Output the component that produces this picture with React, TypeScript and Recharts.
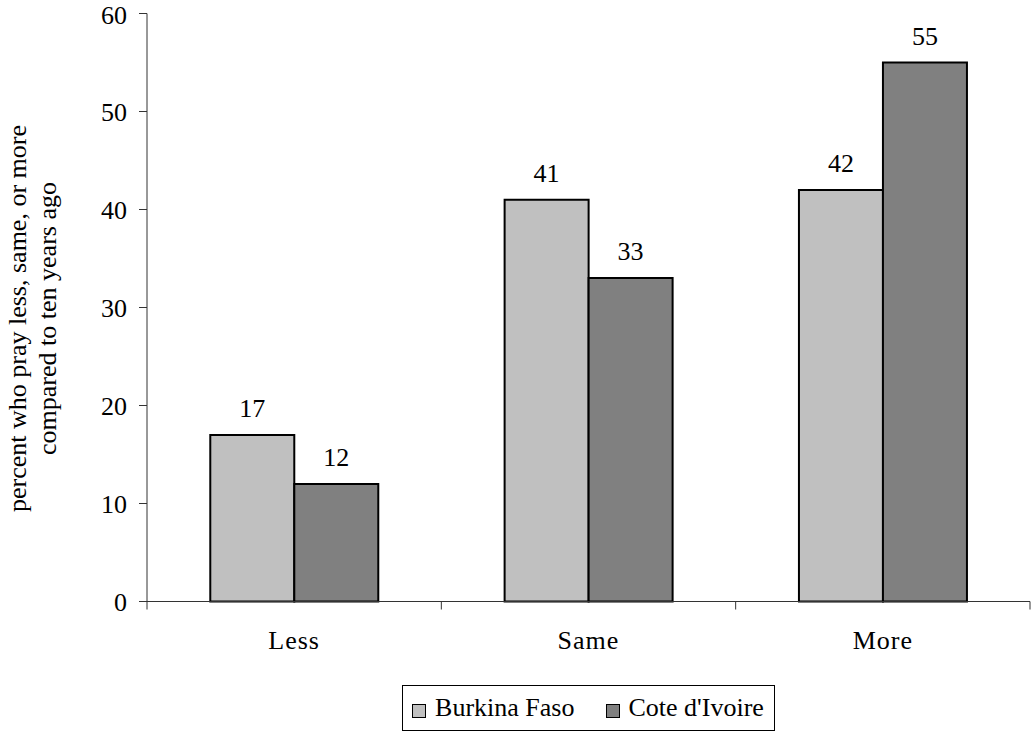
import React from "react";
import { BarChart, Bar, XAxis, YAxis, Legend, LabelList } from "recharts";

const categories = ["Less", "Same", "More"];
const burkinaFaso = [17, 41, 42];
const coteDIvoire = [12, 33, 55];
const yTicks = [0, 10, 20, 30, 40, 50, 60];
const seriesNames = ["Burkina Faso", "Cote d'Ivoire"];
const seriesColors = ["#C0C0C0", "#808080"];
const yLabelLines = ["percent who pray less, same, or more", "compared to ten years ago"];

const data = categories.map((c, i) => ({
  cat: c,
  bf: burkinaFaso[i],
  ci: coteDIvoire[i],
}));

const FONT = "'Liberation Serif', 'Times New Roman', serif";
const FS = 26;
const W = 1032;
const H = 732;
const M = { top: 13.5, right: 2, left: 0, bottom: 70.5 };
const Y_W = 147;
const TICK = 8;
const X_MARGIN = 21;

// ticks sit on the category boundaries, not the centres
function XTick(props: any) {
  const { x, y, payload, index } = props;
  const plotW = W - M.left - M.right - Y_W;
  const half = payload && payload.offset ? payload.offset : plotW / categories.length / 2;
  const axisY = y - TICK - X_MARGIN;
  return (
    <g>
      <line x1={x - half} x2={x - half} y1={axisY} y2={axisY + TICK} stroke="#333" />
      {index === categories.length - 1 && (
        <line x1={x + half} x2={x + half} y1={axisY} y2={axisY + TICK} stroke="#333" />
      )}
      <text x={x} y={y} dy="0.71em" textAnchor="middle" fontFamily={FONT} fontSize={FS} fill="#000" letterSpacing={1}>
        {payload.value}
      </text>
    </g>
  );
}

function YLabel(props: any) {
  const vb = props.viewBox || { y: M.top, height: H - M.top - M.bottom - 60 };
  const cy = vb.y + vb.height / 2 + 11;
  return (
    <g>
      {yLabelLines.map((t, i) => {
        const cx = 17 + i * 30;
        return (
          <text
            key={i}
            x={cx}
            y={cy}
            transform={`rotate(-90, ${cx}, ${cy})`}
            textAnchor="middle"
            dominantBaseline="central"
            fontFamily={FONT}
            fontSize={FS}
            fill="#000"
          >
            {t}
          </text>
        );
      })}
    </g>
  );
}

function LegendBox() {
  return (
    <div style={{ width: "100%", display: "flex", justifyContent: "center" }}>
      <div
        style={{
          border: "1px solid #000",
          height: 44,
          display: "flex",
          alignItems: "center",
          padding: "0 10px 0 9px",
          fontFamily: FONT,
          fontSize: FS,
          color: "#000",
          background: "#fff",
        }}
      >
        {seriesNames.map((n, i) => (
          <div key={n} style={{ display: "flex", alignItems: "center", marginLeft: i ? 31 : 0 }}>
            <span
              style={{
                width: 12,
                height: 12,
                border: "1.5px solid #000",
                background: seriesColors[i],
                marginRight: 9,
                marginTop: 6,
              }}
            />
            <span>{n}</span>
          </div>
        ))}
      </div>
    </div>
  );
}

export default function App() {
  return (
    <div style={{ position: "absolute", left: 0, top: 0, width: W, height: H, background: "#fff" }}>
      <BarChart width={W} height={H} data={data} margin={M} barCategoryGap="21.5%" barGap={0}>
        <XAxis
          dataKey="cat"
          height={60}
          axisLine={{ stroke: "#333" }}
          tickLine={false}
          tickSize={TICK}
          tickMargin={X_MARGIN}
          tick={<XTick />}
          interval={0}
        />
        <YAxis
          width={Y_W}
          domain={[0, 60]}
          ticks={yTicks}
          axisLine={{ stroke: "#333" }}
          tickLine={{ stroke: "#333" }}
          tickSize={TICK}
          tickMargin={12}
          tick={{ fontFamily: FONT, fontSize: FS, fill: "#000" }}
          label={{ content: <YLabel /> }}
        />
        <Legend
          verticalAlign="middle"
          align="center"
          layout="horizontal"
          wrapperStyle={{ top: 685, left: Y_W, width: W - Y_W - M.right }}
          content={<LegendBox />}
        />
        <Bar dataKey="bf" name={seriesNames[0]} fill={seriesColors[0]} stroke="#000" strokeWidth={2} isAnimationActive={false}>
          <LabelList dataKey="bf" position="top" offset={18} fontFamily={FONT} fontSize={FS} fill="#000" />
        </Bar>
        <Bar dataKey="ci" name={seriesNames[1]} fill={seriesColors[1]} stroke="#000" strokeWidth={2} isAnimationActive={false}>
          <LabelList dataKey="ci" position="top" offset={18} fontFamily={FONT} fontSize={FS} fill="#000" />
        </Bar>
      </BarChart>
    </div>
  );
}
